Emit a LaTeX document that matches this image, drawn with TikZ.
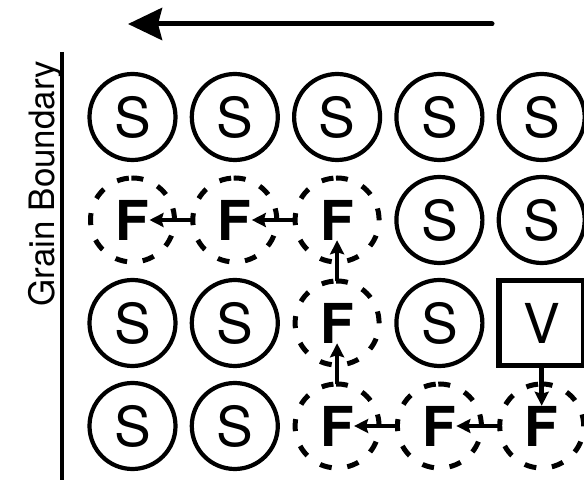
\documentclass[tikz,border=0pt]{standalone}
\usepackage{fontspec}
\setmainfont{TeX Gyre Heros}
\usetikzlibrary{arrows.meta}

\begin{document}
\begin{tikzpicture}[x=1pt, y=1pt,
  big/.style={font=\fontsize{55}{60}\selectfont},
  site/.style={big, circle, draw, line width=4.2pt, minimum size=86pt, inner sep=0pt},
  ring/.style={circle, minimum size=84pt, inner sep=0pt, outer sep=0pt},
  fletter/.style={inner sep=0pt, font=\fontsize{55}{60}\selectfont\bfseries},
  dashring/.style={line width=5pt, dash pattern=on 12pt off 15.7pt},
  hop/.style={line width=4.5pt, -{Stealth[length=14pt, width=14pt, inset=2pt]}},
  vacancy/.style={big, draw, line width=5.5pt, minimum width=85pt, minimum height=85pt, inner sep=0pt},
]
\useasboundingbox (0,0) rectangle (584,485);
\clip (0,0) rectangle (584,485);

% row 1: substitutional sites
\node[site] (s11) at (132.5,368) {S};
\node[site] (s12) at (234.8,368) {S};
\node[site] (s13) at (337.1,368) {S};
\node[site] (s14) at (439.4,368) {S};
\node[site] (s15) at (541.7,368) {S};

% row 2
\node[ring] (c21) at (132.5,265) {};
\node[ring] (c22) at (234.8,265) {};
\node[ring] (c23) at (337.1,265) {};
\node[fletter] (l21) at (c21) {F};
\node[fletter] (l22) at (c22) {F};
\node[fletter] (l23) at (c23) {F};
\node[site] (s24) at (439.4,265) {S};
\node[site] (s25) at (541.7,265) {S};

% row 3
\node[site] (s31) at (132.5,162) {S};
\node[site] (s32) at (234.8,162) {S};
\node[ring] (c33) at (337.1,162) {};
\node[fletter] (l33) at (c33) {F};
\node[site] (s34) at (439.4,162) {S};
\node[vacancy] (v35) at (541.7,162) {V};

% row 4
\node[site] (s41) at (132.5,59) {S};
\node[site] (s42) at (234.8,59) {S};
\node[ring] (c43) at (337.1,59) {};
\node[ring] (c44) at (439.4,59) {};
\node[ring] (c45) at (541.7,59) {};
\node[fletter] (l43) at (c43) {F};
\node[fletter] (l44) at (c44) {F};
\node[fletter] (l45) at (c45) {F};

% dashed outlines of the interstitial sites
\foreach \n in {21,22,23,33,43,44,45}
  \draw[dashring] (c\n.95) arc[start angle=95, end angle=455, radius=42pt];

% diffusion path
\draw[hop] (v35.south) -- (l45.north);
\draw[hop] (c45.west) -- (l44.east);
\draw[hop] (c44.west) -- (l43.east);
\draw[hop] (c43.north) -- (l33.south);
\draw[hop] (c33.north) -- (l23.south);
\draw[hop] (c23.west) -- (l22.east);
\draw[hop] (c22.west) -- (l21.east);

% direction of motion
\coordinate (dirstart) at (492,461);
\coordinate (dirend) at (128,461);
\draw[line width=5pt, line cap=round, -{Stealth[length=34pt, width=32pt, inset=4pt]}] (dirstart) -- (dirend);

% grain boundary
\coordinate (gbtop) at (62,433);
\coordinate (gbbot) at (62,5);
\draw[line width=4.5pt] (gbtop) -- (gbbot);
\node[rotate=90, anchor=base, inner sep=0pt, font=\fontsize{35}{40}\selectfont] (gb) at (54,301.5) {Grain Boundary};
\end{tikzpicture}
\end{document}
